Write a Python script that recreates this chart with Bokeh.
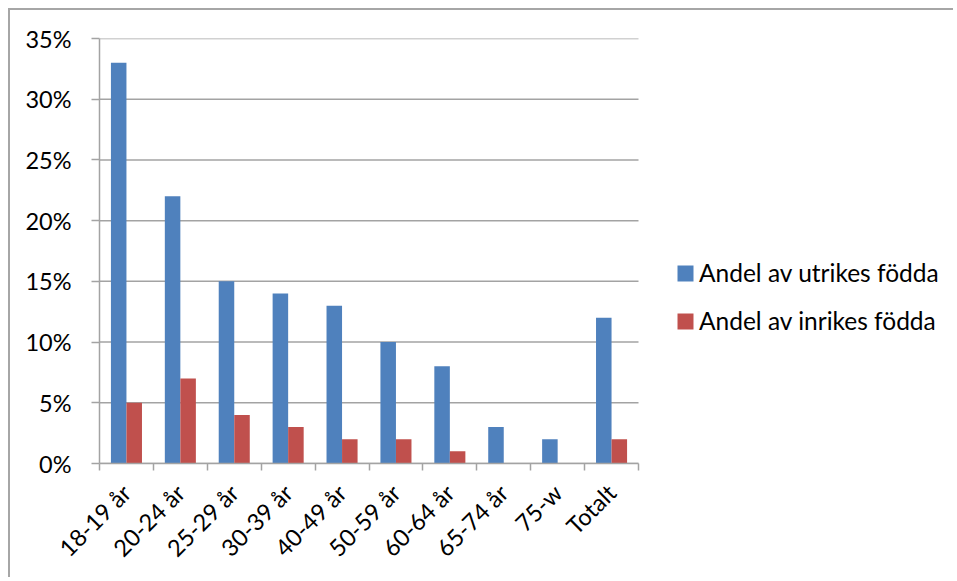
from bokeh.plotting import figure
from bokeh.models import (FixedTicker, NumeralTickFormatter, Range1d, Legend, LegendItem,
                          ColumnDataSource)
from bokeh.embed import file_html
from bokeh.resources import INLINE

categories = ["18-19 år", "20-24 år", "25-29 år", "30-39 år", "40-49 år",
              "50-59 år", "60-64 år", "65-74 år", "75-w", "Totalt"]
utrikes = [0.33, 0.22, 0.15, 0.14, 0.13, 0.10, 0.08, 0.03, 0.02, 0.12]
inrikes = [0.05, 0.07, 0.04, 0.03, 0.02, 0.02, 0.01, 0.0, 0.0, 0.02]
y_ticks = [0.0, 0.05, 0.10, 0.15, 0.20, 0.25, 0.30, 0.35]
series_names = ["Andel av utrikes födda", "Andel av inrikes födda"]
colors = ["#4F81BD", "#C0504D"]

FONT = "Lato"
GRID = "#a3a3a3"
FS = "23.5px"

W, H = 945, 569
LEFT, TOP, BOTTOM = 89, 28, 116
frame_px = W - LEFT          # frame runs to the right edge (legend lives inside it)
cat_px = 53.9                # width of one category in pixels

n = len(categories)
centers = [i + 0.5 for i in range(n)]
bw = 0.288
x_end = frame_px / cat_px

src = ColumnDataSource(dict(
    xb=[c - bw / 2 for c in centers],
    xr=[c + bw / 2 for c in centers],
    u=utrikes, r=inrikes))

p = figure(width=W, height=H, output_backend="svg", toolbar_location=None,
           x_range=Range1d(0, x_end), y_range=Range1d(0, 0.35),
           min_border_left=LEFT, min_border_top=TOP, min_border_right=0,
           min_border_bottom=BOTTOM)
p.styles = {"border-left": "2px solid #a6a6a6", "border-top": "2px solid #a6a6a6",
            "margin-left": "8px", "margin-top": "8px"}
p.outline_line_color = None
p.background_fill_color = "white"
p.border_fill_color = "white"

# horizontal gridlines limited to the category area
p.segment(x0=[0] * len(y_ticks), x1=[n] * len(y_ticks), y0=y_ticks, y1=y_ticks,
          line_color=GRID, line_width=1.5)

rb = p.vbar(x="xb", top="u", width=bw, source=src, fill_color=colors[0], line_color=None)
rr = p.vbar(x="xr", top="r", width=bw, source=src, fill_color=colors[1], line_color=None)

# y axis
p.yaxis.ticker = FixedTicker(ticks=y_ticks)
p.yaxis.formatter = NumeralTickFormatter(format="0%")
p.yaxis.axis_line_color = GRID
p.yaxis.axis_line_width = 1.5
p.yaxis.major_tick_line_color = GRID
p.yaxis.major_tick_line_width = 1.5
p.yaxis.major_tick_out = 8
p.yaxis.major_tick_in = 0
p.yaxis.minor_tick_line_color = None
p.yaxis.major_label_text_font = FONT
p.yaxis.major_label_text_font_size = FS
p.yaxis.major_label_text_color = "black"
p.yaxis.major_label_standoff = 20

# x axis: labels at centers, ticks at boundaries
p.xaxis.bounds = (0, n)
p.xaxis.ticker = FixedTicker(ticks=centers, minor_ticks=list(range(n + 1)))
p.xaxis.major_label_overrides = {c: lab for c, lab in zip(centers, categories)}
p.xaxis.major_label_orientation = 0.785398
p.xaxis.major_tick_line_color = None
p.xaxis.minor_tick_line_color = GRID
p.xaxis.minor_tick_line_width = 1.5
p.xaxis.minor_tick_out = 7
p.xaxis.minor_tick_in = 0
p.xaxis.axis_line_color = GRID
p.xaxis.axis_line_width = 1.5
p.xaxis.major_label_text_font = FONT
p.xaxis.major_label_text_font_size = FS
p.xaxis.major_label_text_color = "black"
p.xaxis.major_label_standoff = 18

p.xgrid.grid_line_color = None
p.ygrid.grid_line_color = None

legend = Legend(items=[LegendItem(label=series_names[0], renderers=[rb]),
                       LegendItem(label=series_names[1], renderers=[rr])],
                location=(576, 128), padding=0, margin=0, spacing=19,
                glyph_width=20, glyph_height=20, label_height=20,
                label_standoff=4, border_line_color=None,
                background_fill_alpha=0,
                label_text_font=FONT, label_text_font_size="24.5px",
                label_text_color="black")
p.add_layout(legend, "center")

open("out.html", "w").write(file_html(p, INLINE))
